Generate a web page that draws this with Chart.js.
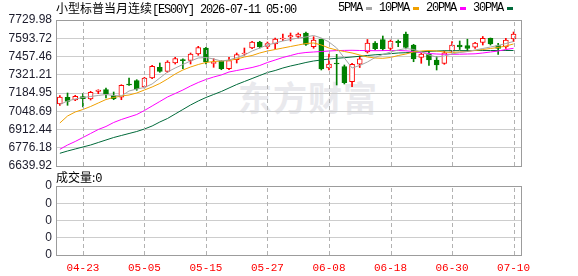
<!DOCTYPE html>
<html>
<head>
<meta charset="utf-8">
<script src="https://cdn.jsdelivr.net/npm/chart.js@4.4.1/dist/chart.umd.min.js"></script>
<style>
  body { margin: 0; background: #fff; }
  #wrap { position: relative; width: 578px; height: 276px; overflow: hidden; font-family: "Noto Sans CJK SC", sans-serif; }
  canvas { position: absolute; left: 0; top: 0; }
  .t { position: absolute; font-size: 12px; line-height: 14px; color: #000; white-space: nowrap; }
  .mono { font-family: "Liberation Mono", monospace; letter-spacing: -1.2px; }
  #legend { position: absolute; left: 338px; top: 1px; display: flex; align-items: center; font-size: 12px; line-height: 14px; }
  #legend .sw { display: inline-block; width: 6px; height: 3px; margin: 0 7px 0 4px; }
  #wm { position: absolute; left: 238px; top: 72px; font-size: 34px; font-weight: bold; color: #e9e9ed; letter-spacing: 1px; }
</style>
</head>
<body>
<div id="wrap">
  <div id="wm">东方财富</div>
  <canvas id="kline" width="578" height="276"></canvas>
  <canvas id="vol" width="578" height="276"></canvas>
  <div class="t" style="left:56px;top:1px">小型标普当月连续<span class="mono">[ES00Y] 2026-07-11 05:00</span></div>
  <div id="legend" class="mono"></div>
  <div class="t" style="left:56px;top:170px">成交量:<span class="mono">0</span></div>
</div>
<script>
const dates = ['04-20','04-21','04-22','04-23','04-24','04-27','04-28','04-29','04-30','05-01',
  '05-04','05-05','05-06','05-07','05-08','05-11','05-12','05-13','05-14','05-15',
  '05-18','05-19','05-20','05-21','05-22','05-25','05-26','05-27','05-28','05-29',
  '06-01','06-02','06-03','06-04','06-05','06-08','06-09','06-10','06-11','06-12',
  '06-15','06-16','06-17','06-18','06-19','06-22','06-23','06-24','06-25','06-26',
  '06-29','06-30','07-01','07-02','07-03','07-06','07-07','07-08','07-09','07-10'];

const openP = [7102.8,7152.9,7132.7,7158.8,7140.2,7196.2,7209.6,7164.8,7152.9,7252.2,
  7276.8,7229.8,7297.0,7376.8,7347.0,7408.9,7433.6,7427.6,7476.1,7520.9,
  7406.7,7421.6,7366.4,7433.6,7476.1,7520.9,7565.7,7533.6,7550.8,7588.1,
  7603.1,7608.3,7632.9,7530.6,7585.9,7371.6,7406.7,7381.3,7269.3,7400.0,
  7491.1,7558.3,7582.9,7517.2,7571.0,7625.5,7543.3,7450.0,7474.6,7431.3,
  7406.7,7497.0,7543.3,7539.6,7526.2,7562.0,7593.4,7539.6,7528.4,7589.6];
const highP = [7166.3,7185.0,7167.8,7179.7,7197.7,7209.0,7222.3,7192.4,7246.9,7297.0,
  7284.3,7302.2,7391.8,7408.9,7426.1,7451.5,7441.0,7483.6,7533.6,7526.2,
  7441.0,7426.1,7451.5,7483.6,7520.9,7571.0,7571.0,7565.7,7595.6,7625.5,
  7632.9,7632.9,7640.4,7605.3,7588.1,7476.1,7473.9,7394.0,7406.7,7461.2,
  7584.4,7568.0,7610.5,7580.7,7580.7,7640.4,7548.6,7481.4,7498.5,7456.0,
  7498.5,7568.0,7573.2,7586.6,7563.5,7606.8,7595.6,7556.0,7593.4,7640.4];
const lowP = [7091.6,7093.1,7127.5,7080.4,7132.7,7179.7,7147.6,7134.9,7134.9,7242.4,
  7205.1,7222.3,7291.7,7339.5,7339.5,7401.5,7366.4,7401.5,7466.4,7401.5,
  7376.8,7358.9,7358.9,7408.9,7466.4,7515.7,7520.9,7515.7,7515.7,7575.4,
  7573.2,7595.6,7539.6,7518.7,7356.7,7356.7,7244.7,7252.2,7232.0,7375.3,
  7483.6,7506.0,7502.3,7502.3,7530.6,7513.5,7418.6,7406.7,7390.3,7356.7,
  7399.2,7483.6,7509.7,7494.8,7518.7,7543.3,7543.3,7472.4,7518.7,7568.0];
const closeP = [7155.1,7123.0,7160.3,7142.4,7190.2,7207.4,7179.7,7142.4,7242.4,7244.7,
  7217.1,7297.0,7384.3,7347.0,7416.4,7442.5,7426.1,7476.1,7524.7,7416.4,
  7414.2,7366.4,7426.1,7470.9,7483.6,7565.7,7528.4,7553.0,7588.1,7595.6,
  7614.3,7625.5,7547.1,7580.7,7364.1,7401.5,7401.5,7261.9,7399.2,7441.0,
  7558.3,7515.7,7513.5,7573.2,7560.5,7524.7,7438.8,7474.6,7431.3,7394.0,
  7485.1,7543.3,7529.9,7517.2,7558.3,7593.4,7550.8,7517.2,7580.7,7624.0];

const ma5 = [7099.1,7125.2,7140.2,7151.4,7158.8,7166.3,7173.8,7166.3,7162.6,7199.9,
  7214.8,7226.0,7252.2,7297.0,7341.7,7371.6,7397.7,7423.9,7446.3,7450.0,
  7438.8,7423.9,7431.3,7450.0,7468.7,7498.5,7520.9,7543.3,7558.3,7573.2,
  7584.4,7595.6,7603.1,7614.3,7595.6,7565.7,7520.9,7446.3,7371.6,7390.3,
  7416.4,7450.0,7472.4,7491.1,7506.0,7517.2,7509.7,7491.1,7468.7,7453.7,
  7461.2,7476.1,7487.3,7494.8,7506.0,7517.2,7528.4,7539.6,7554.5,7569.5];
const ma10 = [6961.0,7013.2,7043.1,7061.8,7084.2,7110.3,7136.4,7151.4,7162.6,7170.0,
  7184.9,7207.4,7229.8,7255.9,7289.5,7326.8,7356.7,7379.1,7397.7,7412.7,
  7420.1,7423.9,7427.6,7438.8,7453.7,7464.9,7483.6,7498.5,7509.7,7520.9,
  7532.1,7543.3,7554.5,7558.3,7543.3,7520.9,7506.0,7494.8,7483.6,7468.7,
  7453.7,7446.3,7444.0,7450.0,7464.9,7476.1,7491.1,7498.5,7502.3,7498.5,
  7491.1,7487.3,7491.1,7494.8,7502.3,7509.7,7517.2,7524.7,7535.9,7550.8];
const ma20 = [6764.6,6796.7,6822.9,6852.7,6882.6,6912.5,6934.9,6964.7,6987.1,7005.8,
  7024.4,7054.3,7087.9,7121.5,7155.1,7181.2,7207.4,7237.2,7263.4,7285.8,
  7304.4,7319.6,7341.7,7352.9,7364.1,7375.3,7390.3,7412.7,7431.3,7450.0,
  7464.9,7479.9,7487.3,7491.1,7494.8,7498.5,7501.5,7503.0,7503.8,7502.3,
  7501.5,7500.8,7501.5,7502.3,7502.3,7500.0,7494.8,7487.3,7479.9,7476.1,
  7473.9,7473.9,7474.6,7476.1,7477.6,7483.6,7491.1,7498.5,7509.7,7518.7];
const ma30 = [6734.8,6751.9,6766.9,6781.8,6796.7,6815.4,6834.1,6852.7,6867.7,6882.6,
  6897.5,6916.2,6938.6,6968.4,6994.6,7028.2,7061.8,7095.4,7125.2,7151.4,
  7173.8,7196.2,7222.3,7248.4,7270.8,7293.2,7315.6,7338.0,7352.9,7371.6,
  7386.6,7399.2,7412.7,7423.9,7431.3,7438.8,7444.0,7448.5,7453.7,7459.0,
  7464.9,7470.2,7473.9,7478.4,7483.6,7485.8,7489.6,7492.6,7496.3,7498.5,
  7500.8,7500.8,7501.5,7501.5,7502.3,7502.3,7502.3,7502.3,7502.3,7502.3];

const priceTicks = [7729.98,7593.72,7457.46,7321.21,7184.95,7048.69,6912.44,6776.18,6639.92];
const dateTicks = ['04-23','05-05','05-15','05-27','06-08','06-18','06-30','07-10'];
const volTicks = [0,1,2,3,4];
const volTickLabels = ['0','0','0','0','0'];

const maNames = ['5PMA','10PMA','20PMA','30PMA'];
const maColors = ['#a6a6a6','#f0a000','#ff00ff','#006a3a'];
const UP = '#ff0000', DOWN = '#008000';

// legend: name then colour swatch
const legend = document.getElementById('legend');
maNames.forEach((name, k) => {
  const s = document.createElement('span');
  s.textContent = name;
  const sw = document.createElement('span');
  sw.className = 'sw';
  sw.style.background = maColors[k];
  legend.appendChild(s);
  legend.appendChild(sw);
});

// dashed vertical grid at the date ticks + grey frame round the plot
const frame = {
  id: 'frame',
  afterDraw(chart) {
    const { ctx, chartArea: a } = chart;
    const xs = chart.scales.x;
    ctx.save();
    ctx.fillStyle = '#b2b2b2';
    dateTicks.forEach(d => {
      const px = Math.round(xs.getPixelForValue(dates.indexOf(d)));
      for (let y = a.top + 2; y < a.bottom; y += 7) {
        ctx.fillRect(px, y, 1, Math.min(4, a.bottom - y));
      }
    });
    ctx.strokeStyle = '#9c9c9c';
    ctx.lineWidth = 1;
    ctx.strokeRect(a.left + 0.5, a.top + 0.5, a.right - a.left - 1, a.bottom - a.top);
    ctx.restore();
  }
};

const isUp = closeP.map((c, i) => c >= openP[i]);
const candleColor = isUp.map(u => u ? UP : DOWN);
const xDate = () => ({
  type: 'linear', min: -0.5, max: 60.1, offset: false,
  afterBuildTicks: s => { s.ticks = dateTicks.map(d => ({ value: dates.indexOf(d) })); },
  grid: { display: false, drawTicks: false },
  border: { display: false }
});

new Chart(document.getElementById('kline'), {
  type: 'bar',
  data: {
    datasets: [
      ...[ma5, ma10, ma20, ma30].map((arr, k) => ({
        type: 'line', label: maNames[k], order: 0,
        data: arr.map((v, i) => ({ x: i, y: v })),
        borderColor: maColors[k], borderWidth: 1, pointRadius: 0, tension: 0
      })),
      {
        label: 'body', order: 1, grouped: false,
        data: dates.map((d, i) => ({ x: i, y: [openP[i], closeP[i]] })),
        backgroundColor: isUp.map(u => u ? '#ffffff' : DOWN),
        borderColor: candleColor, borderWidth: 1, borderSkipped: false,
        barThickness: 5, minBarLength: 1
      },
      {
        label: 'wick', order: 2, grouped: false,
        data: dates.map((d, i) => ({ x: i, y: [lowP[i], highP[i]] })),
        backgroundColor: candleColor, borderWidth: 0, barThickness: 1
      }
    ]
  },
  options: {
    responsive: false, animation: false, events: [],
    layout: { padding: { left: 0, right: 56, top: 20, bottom: 110 } },
    plugins: { legend: { display: false }, tooltip: { enabled: false } },
    scales: {
      x: { ...xDate(), ticks: { display: false }, afterFit: s => { s.height = 0; } },
      y: {
        min: 6639.92, max: 7729.98,
        afterBuildTicks: s => { s.ticks = priceTicks.map(v => ({ value: v })); },
        afterFit: s => { s.width = 56; },
        grid: { color: '#cdcdcd', drawTicks: false },
        border: { display: false },
        ticks: {
          autoSkip: false, padding: 4, color: '#1c1c2c',
          font: { family: 'Liberation Sans', size: 12 },
          callback: v => v.toFixed(2)
        }
      }
    }
  },
  plugins: [frame]
});

new Chart(document.getElementById('vol'), {
  type: 'bar',
  data: { datasets: [] },
  options: {
    responsive: false, animation: false, events: [],
    layout: { padding: { left: 0, right: 56, top: 186, bottom: 0 } },
    plugins: { legend: { display: false }, tooltip: { enabled: false } },
    scales: {
      x: {
        ...xDate(),
        afterFit: s => { s.height = 21; },
        ticks: {
          autoSkip: false, maxRotation: 0, padding: 6, color: '#ff0000',
          font: { family: 'Liberation Mono', size: 11 },
          callback: v => dates[v]
        }
      },
      y: {
        min: 0, max: 4,
        afterBuildTicks: s => { s.ticks = volTicks.map(v => ({ value: v })); },
        afterFit: s => { s.width = 56; },
        grid: { color: '#cdcdcd', drawTicks: false },
        border: { display: false },
        ticks: {
          autoSkip: false, padding: 4, color: '#1c1c2c',
          font: { family: 'Liberation Sans', size: 12 },
          callback: (v, i) => volTickLabels[i]
        }
      }
    }
  },
  plugins: [frame]
});
</script>
</body>
</html>
